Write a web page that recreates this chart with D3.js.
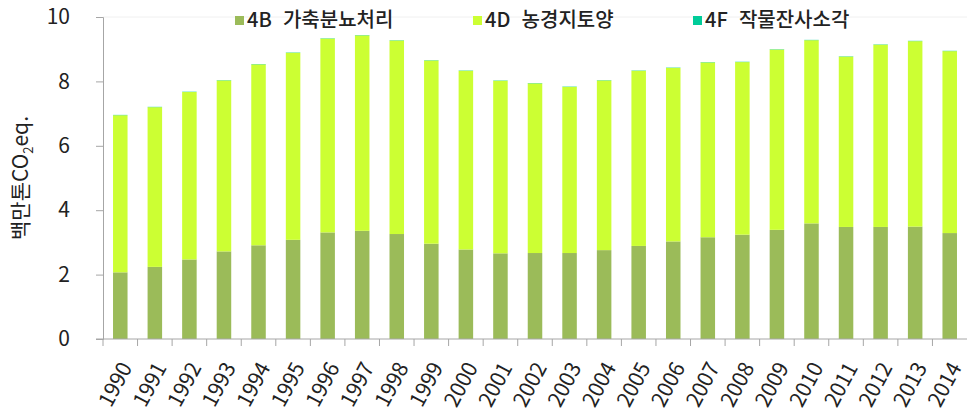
<!DOCTYPE html>
<html lang="ko">
<head>
<meta charset="utf-8">
<style>
  body { margin: 0; background: #fff; }
  text { font-family: "Noto Sans CJK KR", "Noto Sans", sans-serif; fill: #222; }
</style>
</head>
<body>
<div id="chart"></div>
<script src="https://d3js.org/d3.v7.min.js"></script>
<script>
var years = ["1990","1991","1992","1993","1994","1995","1996","1997","1998","1999","2000",
  "2001","2002","2003","2004","2005","2006","2007","2008","2009","2010","2011","2012","2013","2014"]

// 4B 가축분뇨처리
var manure = [2.07,2.24,2.47,2.72,2.91,3.08,3.31,3.36,3.26,2.96,2.78,
  2.66,2.67,2.67,2.76,2.89,3.03,3.16,3.24,3.39,3.59,3.48,3.48,3.49,3.29]
// 4D 농경지토양
var soils = [4.88,4.96,5.20,5.31,5.62,5.81,6.02,6.07,6.01,5.69,5.55,
  5.36,5.27,5.16,5.27,5.44,5.39,5.43,5.36,5.60,5.69,5.29,5.66,5.76,5.65]
// 4F 작물잔사소각
var burning = [0.01,0.01,0.01,0.01,0.01,0.01,0.01,0.01,0.01,0.01,0.01,
  0.01,0.01,0.01,0.01,0.01,0.01,0.01,0.01,0.01,0.01,0.01,0.01,0.01,0.01]

var seriesNames = ["4B  가축분뇨처리", "4D  농경지토양", "4F  작물잔사소각"]
var colors = ["#9bbb59", "#ccff33", "#00cc99"]
var yTicks = [0, 2, 4, 6, 8, 10]

var width = 972, height = 413
var margin = {top: 17, right: 5, bottom: 74, left: 103}

var svg = d3.select("#chart").append("svg")
  .attr("width", width)
  .attr("height", height)

var rows = years.map(function(y, i) {
  return {year: y, b: manure[i], d: soils[i], f: burning[i]}
})
var layers = d3.stack().keys(["b", "d", "f"])(rows)

var x = d3.scaleBand()
  .domain(years)
  .range([margin.left, width - margin.right])
  .paddingInner(0.58)
  .paddingOuter(0.29)

var y = d3.scaleLinear()
  .domain([0, 10])
  .range([height - margin.bottom, margin.top])

// faint top border
svg.append("line")
  .attr("x1", margin.left).attr("x2", width - margin.right)
  .attr("y1", y(10)).attr("y2", y(10))
  .attr("stroke", "#f0f0f0")

// bars
svg.selectAll("g.layer")
  .data(layers)
  .enter().append("g")
    .attr("class", "layer")
    .attr("fill", function(d, i) { return colors[i] })
  .selectAll("rect")
  .data(function(d) { return d })
  .enter().append("rect")
    .attr("x", function(d) { return x(d.data.year) })
    .attr("width", x.bandwidth())
    .attr("y", function(d) { return y(d[1]) })
    .attr("height", function(d) { return y(d[0]) - y(d[1]) })

// y axis
var yAxis = svg.append("g")
  .attr("transform", "translate(" + margin.left + ",0)")
  .call(d3.axisLeft(y).tickValues(yTicks).tickSize(7).tickPadding(26))
yAxis.selectAll("path, line").attr("stroke", "#a6a6a6")
yAxis.selectAll("text")
  .style("font-size", "21px")
  .style("font-family", "'Noto Sans CJK KR', sans-serif")
  .attr("fill", "#222")

// x axis, ticks at band boundaries
var step = x.step()
var xAxisG = svg.append("g")
  .attr("transform", "translate(0," + y(0) + ")")
xAxisG.append("line")
  .attr("x1", margin.left - 7).attr("x2", width - margin.right)
  .attr("stroke", "#a6a6a6")
xAxisG.selectAll("line.tick")
  .data(years)
  .enter().append("line")
    .attr("class", "tick")
    .attr("x1", function(d) { return x(d) + x.bandwidth() / 2 - step / 2 })
    .attr("x2", function(d) { return x(d) + x.bandwidth() / 2 - step / 2 })
    .attr("y1", 0).attr("y2", 7)
    .attr("stroke", "#a6a6a6")

xAxisG.selectAll("text.year")
  .data(years)
  .enter().append("text")
    .attr("class", "year")
    .attr("text-anchor", "end")
    .style("font-size", "21px")
    .attr("transform", function(d) {
      return "translate(" + (x(d) + x.bandwidth() / 2 + 6) + ",25) rotate(-62)"
    })
    .attr("dy", "0.35em")
    .text(function(d) { return d })

// y axis title
svg.append("text")
  .attr("transform", "translate(28," + ((y(0) + y(10)) / 2) + ") rotate(-90)")
  .attr("text-anchor", "middle")
  .style("font-size", "21px")
  .html('백만톤CO<tspan dy="5" font-size="13">2</tspan><tspan dy="-5">eq.</tspan>')

// legend
var legendX = [235, 473, 693]
var legend = svg.selectAll("g.legend")
  .data(seriesNames)
  .enter().append("g")
    .attr("class", "legend")
    .attr("transform", function(d, i) { return "translate(" + legendX[i] + ",20)" })
legend.append("rect")
  .attr("x", 0).attr("y", -4)
  .attr("width", 9).attr("height", 9)
  .attr("fill", function(d, i) { return colors[i] })
legend.append("text")
  .attr("x", 12)
  .attr("dy", "0.35em")
  .style("font-size", "20px")
  .style("font-weight", "500")
  .style("white-space", "pre")
  .text(function(d) { return d })
</script>
</body>
</html>
